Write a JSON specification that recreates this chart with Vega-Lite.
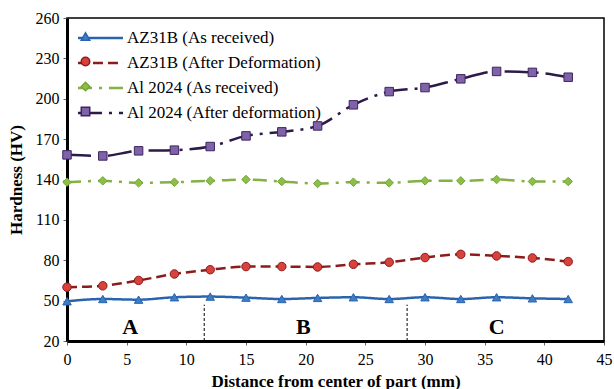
{
  "$schema": "https://vega.github.io/schema/vega-lite/v6.json",
  "autosize": "none",
  "width": 537,
  "height": 323,
  "padding": {"left": 67, "top": 18, "right": 10, "bottom": 48},
  "background": "white",
  "config": {
    "view": {"stroke": "black", "strokeWidth": 1.5},
    "axis": {
      "labelFont": "Liberation Serif, Times New Roman, DejaVu Serif, serif", "labelFontSize": 16, "labelColor": "black",
      "titleFont": "Liberation Serif, Times New Roman, DejaVu Serif, serif", "titleFontSize": 17, "titleFontWeight": "bold", "titleColor": "black",
      "domainColor": "black", "domainWidth": 3, "tickColor": "#666", "tickSize": 4, "grid": false
    },
    "legend": {
      "labelFont": "Liberation Serif, Times New Roman, DejaVu Serif, serif", "labelFontSize": 17, "labelColor": "black", "padding": 0, "rowPadding": 7, "labelLimit": 400
    }
  },
  "datasets": {
    "hardness": [
      {"x": 0, "series": "AZ31B (As received)", "hv": 49.5},
      {"x": 3, "series": "AZ31B (As received)", "hv": 51.2},
      {"x": 6, "series": "AZ31B (As received)", "hv": 50.7},
      {"x": 9, "series": "AZ31B (As received)", "hv": 52.5},
      {"x": 12, "series": "AZ31B (As received)", "hv": 53},
      {"x": 15, "series": "AZ31B (As received)", "hv": 52.2},
      {"x": 18, "series": "AZ31B (As received)", "hv": 51.2},
      {"x": 21, "series": "AZ31B (As received)", "hv": 52},
      {"x": 24, "series": "AZ31B (As received)", "hv": 52.5},
      {"x": 27, "series": "AZ31B (As received)", "hv": 51.2},
      {"x": 30, "series": "AZ31B (As received)", "hv": 52.5},
      {"x": 33, "series": "AZ31B (As received)", "hv": 51.2},
      {"x": 36, "series": "AZ31B (As received)", "hv": 52.5},
      {"x": 39, "series": "AZ31B (As received)", "hv": 51.7},
      {"x": 42, "series": "AZ31B (As received)", "hv": 51.2},
      {"x": 0, "series": "AZ31B (After Deformation)", "hv": 60},
      {"x": 3, "series": "AZ31B (After Deformation)", "hv": 61},
      {"x": 6, "series": "AZ31B (After Deformation)", "hv": 65},
      {"x": 9, "series": "AZ31B (After Deformation)", "hv": 69.8},
      {"x": 12, "series": "AZ31B (After Deformation)", "hv": 73},
      {"x": 15, "series": "AZ31B (After Deformation)", "hv": 75.3},
      {"x": 18, "series": "AZ31B (After Deformation)", "hv": 75.3},
      {"x": 21, "series": "AZ31B (After Deformation)", "hv": 75},
      {"x": 24, "series": "AZ31B (After Deformation)", "hv": 77},
      {"x": 27, "series": "AZ31B (After Deformation)", "hv": 78.5},
      {"x": 30, "series": "AZ31B (After Deformation)", "hv": 82},
      {"x": 33, "series": "AZ31B (After Deformation)", "hv": 84.4},
      {"x": 36, "series": "AZ31B (After Deformation)", "hv": 83.2},
      {"x": 39, "series": "AZ31B (After Deformation)", "hv": 81.7},
      {"x": 42, "series": "AZ31B (After Deformation)", "hv": 79},
      {"x": 0, "series": "Al 2024 (As received)", "hv": 138},
      {"x": 3, "series": "Al 2024 (As received)", "hv": 139},
      {"x": 6, "series": "Al 2024 (As received)", "hv": 137.5},
      {"x": 9, "series": "Al 2024 (As received)", "hv": 138},
      {"x": 12, "series": "Al 2024 (As received)", "hv": 139},
      {"x": 15, "series": "Al 2024 (As received)", "hv": 140},
      {"x": 18, "series": "Al 2024 (As received)", "hv": 138.5},
      {"x": 21, "series": "Al 2024 (As received)", "hv": 137},
      {"x": 24, "series": "Al 2024 (As received)", "hv": 138},
      {"x": 27, "series": "Al 2024 (As received)", "hv": 137.5},
      {"x": 30, "series": "Al 2024 (As received)", "hv": 139},
      {"x": 33, "series": "Al 2024 (As received)", "hv": 139},
      {"x": 36, "series": "Al 2024 (As received)", "hv": 140},
      {"x": 39, "series": "Al 2024 (As received)", "hv": 138.5},
      {"x": 42, "series": "Al 2024 (As received)", "hv": 138.5},
      {"x": 0, "series": "Al 2024 (After deformation)", "hv": 158.3},
      {"x": 3, "series": "Al 2024 (After deformation)", "hv": 157.5},
      {"x": 6, "series": "Al 2024 (After deformation)", "hv": 161.3},
      {"x": 9, "series": "Al 2024 (After deformation)", "hv": 161.8},
      {"x": 12, "series": "Al 2024 (After deformation)", "hv": 164.5},
      {"x": 15, "series": "Al 2024 (After deformation)", "hv": 172.4},
      {"x": 18, "series": "Al 2024 (After deformation)", "hv": 175.4},
      {"x": 21, "series": "Al 2024 (After deformation)", "hv": 179.8},
      {"x": 24, "series": "Al 2024 (After deformation)", "hv": 195.5},
      {"x": 27, "series": "Al 2024 (After deformation)", "hv": 205.3},
      {"x": 30, "series": "Al 2024 (After deformation)", "hv": 208.3},
      {"x": 33, "series": "Al 2024 (After deformation)", "hv": 214.8},
      {"x": 36, "series": "Al 2024 (After deformation)", "hv": 220.3},
      {"x": 39, "series": "Al 2024 (After deformation)", "hv": 219.6},
      {"x": 42, "series": "Al 2024 (After deformation)", "hv": 216}
    ],
    "zones": [
      {"zone": "A", "x": 5.3},
      {"zone": "B", "x": 19.8},
      {"zone": "C", "x": 36}
    ],
    "bounds": [
      {"x": 11.5},
      {"x": 28.5}
    ]
  },
  "layer": [
    {
      "data": {"name": "bounds"},
      "mark": {"type": "rule", "color": "black", "strokeWidth": 1, "strokeDash": [3, 2]},
      "encoding": {
        "x": {"field": "x", "type": "quantitative"},
        "y": {"datum": 20},
        "y2": {"datum": 47}
      }
    },
    {
      "data": {"name": "zones"},
      "mark": {"type": "text", "font": "Liberation Serif, Times New Roman, DejaVu Serif, serif", "fontSize": 22, "fontWeight": "bold", "color": "black", "baseline": "middle"},
      "encoding": {
        "x": {"field": "x", "type": "quantitative"},
        "y": {"datum": 30.5},
        "text": {"field": "zone"}
      }
    },
    {
      "data": {"name": "hardness"},
      "mark": {"type": "line", "strokeWidth": 2.5, "interpolate": "monotone"},
      "encoding": {
        "x": {
          "field": "x", "type": "quantitative",
          "scale": {"domain": [0, 45], "nice": false},
          "axis": {"values": [0, 5, 10, 15, 20, 25, 30, 35, 40, 45], "title": "Distance from center of part (mm)", "labelPadding": 6, "titlePadding": 6, "labelFlush": false}
        },
        "y": {
          "field": "hv", "type": "quantitative",
          "scale": {"domain": [20, 260], "nice": false, "zero": false},
          "axis": {"values": [20, 50, 80, 110, 140, 170, 200, 230, 260], "title": "Hardness (HV)", "labelPadding": 4, "titlePadding": 10}
        },
        "color": {
          "field": "series", "type": "nominal",
          "sort": ["AZ31B (As received)", "AZ31B (After Deformation)", "Al 2024 (As received)", "Al 2024 (After deformation)"],
          "scale": {"range": ["#2a64ad", "#8c1c1c", "#84b044", "#2e1a47"]},
          "legend": {"orient": "none", "legendX": 23.5, "legendY": 10, "title": null, "symbolType": "M-2.65,0H2.65", "symbolSize": 289, "symbolStrokeWidth": 2.5, "labelOffset": 16.5,
            "encode": {"symbols": {"update": {"strokeDash": {"scale": "strokeDash", "field": "value"}, "fill": {"value": "transparent"}}}}}
        },
        "strokeDash": {
          "field": "series", "type": "nominal",
          "sort": ["AZ31B (As received)", "AZ31B (After Deformation)", "Al 2024 (As received)", "Al 2024 (After deformation)"],
          "scale": {"range": [[1, 0], [10, 5], [14, 7, 3, 7], [24, 7, 3, 7]]},
          "legend": null
        }
      }
    },
    {
      "data": {"name": "hardness"},
      "mark": {"type": "point", "filled": true, "size": 72, "strokeWidth": 1, "opacity": 1},
      "encoding": {
        "x": {"field": "x", "type": "quantitative"},
        "y": {"field": "hv", "type": "quantitative"},
        "shape": {
          "field": "series", "type": "nominal",
          "scale": {"domain": ["AZ31B (As received)", "AZ31B (After Deformation)", "Al 2024 (As received)", "Al 2024 (After deformation)"], "range": ["triangle-up", "circle", "diamond", "square"]},
          "legend": {"orient": "top-left", "offset": 10, "title": null, "labelExpr": "' '", "symbolSize": 72, "symbolOffset": 0,
            "encode": {"symbols": {"update": {"fill": {"scale": "fill", "field": "value"}, "stroke": {"scale": "stroke", "field": "value"}, "strokeWidth": {"value": 1}, "opacity": {"value": 1}}}}}
        },
        "fill": {
          "field": "series", "type": "nominal",
          "scale": {"domain": ["AZ31B (As received)", "AZ31B (After Deformation)", "Al 2024 (As received)", "Al 2024 (After deformation)"], "range": ["#3d7cc9", "#d8413c", "#8cbf45", "#7f62a8"]},
          "legend": null
        },
        "stroke": {
          "field": "series", "type": "nominal",
          "scale": {"domain": ["AZ31B (As received)", "AZ31B (After Deformation)", "Al 2024 (As received)", "Al 2024 (After deformation)"], "range": ["#2a64ad", "#8c1c1c", "#76a33a", "#3d2660"]},
          "legend": null
        }
      }
    }
  ]
}
